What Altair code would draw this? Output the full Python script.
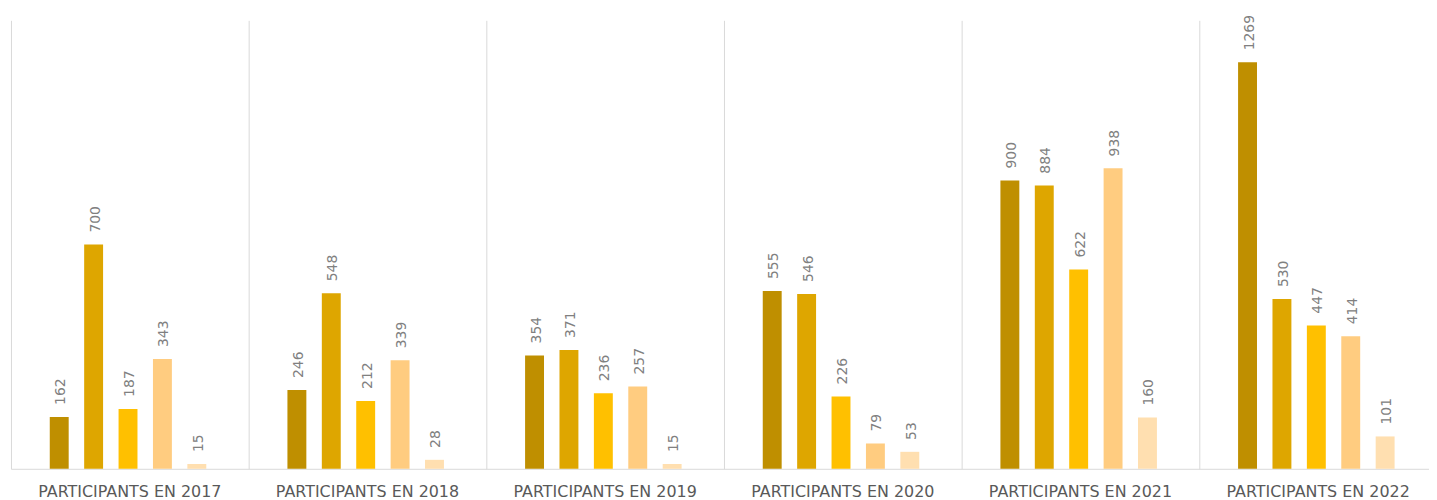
import altair as alt
import pandas as pd

groups = ["PARTICIPANTS EN 2017", "PARTICIPANTS EN 2018", "PARTICIPANTS EN 2019",
          "PARTICIPANTS EN 2020", "PARTICIPANTS EN 2021", "PARTICIPANTS EN 2022"]
series = ["Série 1", "Série 2", "Série 3", "Série 4", "Série 5"]
s1 = [162, 246, 354, 555, 900, 1269]
s2 = [700, 548, 371, 546, 884, 530]
s3 = [187, 212, 236, 226, 622, 447]
s4 = [343, 339, 257, 79, 938, 414]
s5 = [15, 28, 15, 53, 160, 101]
colors = ["#BF8F00", "#DEA600", "#FFC000", "#FFCC80", "#FFDFB0"]

rows = []
for name, vals in zip(series, [s1, s2, s3, s4, s5]):
    for g, v in zip(groups, vals):
        rows.append({"group": g, "series": name, "value": v})
df = pd.DataFrame(rows)

x = alt.X("group:N", sort=groups, title=None,
          scale=alt.Scale(range=[0, alt.ExprRef("width + 8")], paddingInner=0, paddingOuter=0),
          axis=alt.Axis(grid=True, bandPosition=0, gridColor="#D9D9D9", gridWidth=1,
                        domainColor="#D9D9D9", domainWidth=1, ticks=False,
                        labelAngle=0, labelFont="DejaVu Sans", labelFontSize=16,
                        labelColor="#595959", labelPadding=15, labelLimit=0))
xo = alt.XOffset("series:N", sort=series,
                 scale=alt.Scale(range=[39, 196.4], paddingInner=0.45, paddingOuter=0))
y = alt.Y("value:Q", scale=alt.Scale(domain=[0, 1400], nice=False), axis=None)
color = alt.Color("series:N", sort=series,
                  scale=alt.Scale(domain=series, range=colors), legend=None)

base = alt.Chart(df).encode(x=x, xOffset=xo, y=y)
bars = base.mark_bar().encode(color=color)
labels = base.mark_text(angle=270, align="left", baseline="middle", dx=12, dy=2,
                        font="DejaVu Sans", fontSize=14, color="#808080").encode(
    text="value:Q")

chart = (bars + labels).properties(
    width=1426, height=451,
    autosize=alt.AutoSizeParams(type="none"),
    padding={"left": 3, "top": 11, "right": 0, "bottom": 30},
).configure_view(stroke=None)

chart.save("out.html", embed_options={"renderer": "svg", "actions": False})
